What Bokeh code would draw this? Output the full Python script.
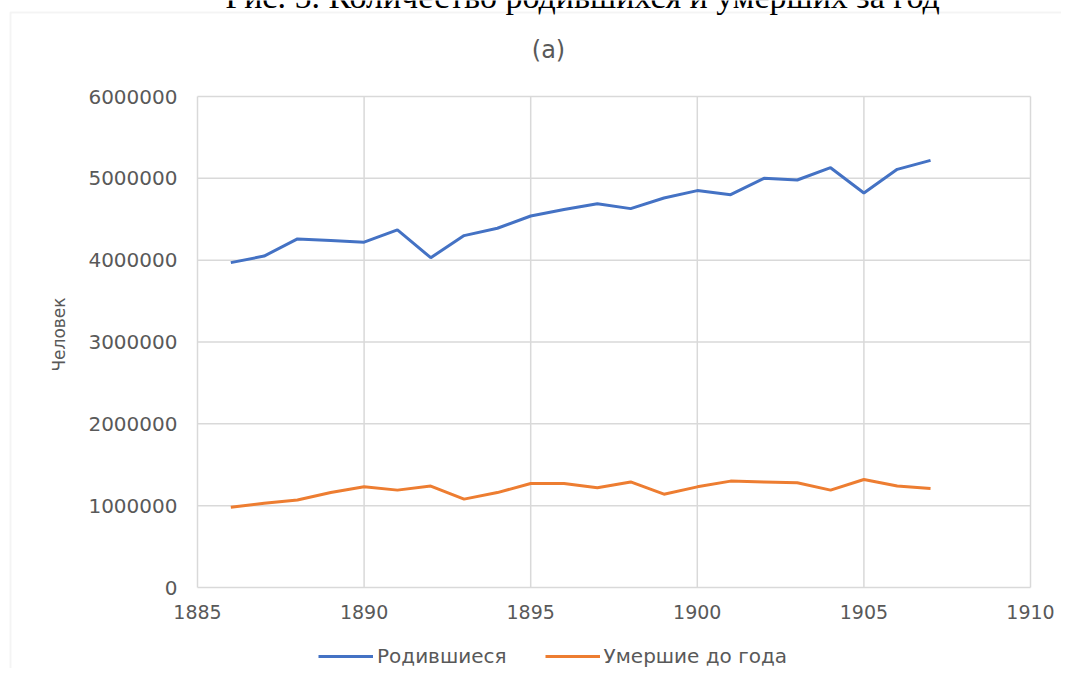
from bokeh.plotting import figure
from bokeh.models import (Label, BoxAnnotation, Legend, LegendItem, FixedTicker,
                          Range1d, NumeralTickFormatter, ColumnDataSource)
from bokeh.embed import file_html
from bokeh.resources import INLINE

years = list(range(1886, 1908))
born = [3970000, 4050000, 4260000, 4240000, 4220000, 4370000, 4030000, 4300000,
        4390000, 4540000, 4620000, 4690000, 4630000, 4760000, 4850000, 4800000,
        5000000, 4980000, 5130000, 4820000, 5110000, 5220000]
died = [980000, 1030000, 1070000, 1160000, 1230000, 1190000, 1240000, 1080000,
        1160000, 1270000, 1270000, 1220000, 1290000, 1140000, 1230000, 1300000,
        1290000, 1280000, 1190000, 1320000, 1240000, 1210000]
x_ticks = [1885, 1890, 1895, 1900, 1905, 1910]
y_ticks = [0, 1000000, 2000000, 3000000, 4000000, 5000000, 6000000]
series_names = ["Родившиеся", "Умершие до года"]
caption = "Рис. 5. Количество родившихся и умерших за год"
subtitle = "(a)"
y_label = "Человек"

# pixel geometry of the plotting area inside the canvas
W, H = 1061, 668
PL, PR, PT, PB = 197, 1030, 96, 587
xs = (x_ticks[-1] - x_ticks[0]) / (PR - PL)
ys = (y_ticks[-1] - y_ticks[0]) / (PB - PT)
x_range = Range1d(x_ticks[0] - PL * xs, x_ticks[-1] + (W - PR) * xs)
y_range = Range1d(y_ticks[0] - (H - PB) * ys, y_ticks[-1] + PT * ys)

p = figure(width=W, height=H, output_backend="svg", toolbar_location=None,
           x_range=x_range, y_range=y_range,
           min_border_left=0, min_border_right=0, min_border_top=0,
           min_border_bottom=0)
p.title.text = ""
p.background_fill_color = "white"
p.border_fill_color = "white"
p.outline_line_color = None
p.xgrid.visible = False
p.ygrid.visible = False

grid_color = "#d9d9d9"
n_x, n_y = len(x_ticks), len(y_ticks)
p.segment(x0=x_ticks, x1=x_ticks, y0=[y_ticks[0]] * n_x, y1=[y_ticks[-1]] * n_x,
          line_color=grid_color, line_width=1.5)
p.segment(x0=[x_ticks[0]] * n_y, x1=[x_ticks[-1]] * n_y, y0=y_ticks, y1=y_ticks,
          line_color=grid_color, line_width=1.5)

src = ColumnDataSource(dict(year=years, born=born, died=died))
r1 = p.line("year", "born", source=src, line_color="#4472C4", line_width=3)
r2 = p.line("year", "died", source=src, line_color="#ED7D31", line_width=3)

gray_text = "#595959"
for ax in (p.xaxis, p.yaxis):
    ax.axis_line_color = None
    ax.major_tick_line_color = None
    ax.minor_tick_line_color = None
    ax.major_tick_out = 0
    ax.major_tick_in = 0
    ax.major_label_text_color = gray_text
    ax.major_label_text_font = "DejaVu Sans"
    ax.major_label_text_font_size = "19px"
p.yaxis.major_label_text_font_size = "20px"

p.xaxis.fixed_location = y_ticks[0]
p.yaxis.fixed_location = x_ticks[0]
p.xaxis.ticker = FixedTicker(ticks=x_ticks)
p.yaxis.ticker = FixedTicker(ticks=y_ticks)
p.yaxis.formatter = NumeralTickFormatter(format="0")
p.xaxis.formatter = NumeralTickFormatter(format="0")
p.xaxis.major_label_standoff = 17
p.yaxis.major_label_standoff = 20
p.yaxis.axis_label = y_label
p.yaxis.axis_label_text_font = "DejaVu Sans"
p.yaxis.axis_label_text_font_style = "normal"
p.yaxis.axis_label_text_font_size = "17px"
p.yaxis.axis_label_text_color = gray_text
p.yaxis.axis_label_standoff = 16

# chart box border (runs off the page on the right and bottom)
p.add_layout(BoxAnnotation(left=10, right=W + 50, top=H - 12, bottom=-50,
                           left_units="screen", right_units="screen",
                           top_units="screen", bottom_units="screen",
                           fill_color=None, line_color=grid_color, line_width=2))

p.add_layout(Label(x=548, y=H - 49, x_units="screen", y_units="screen", text=subtitle,
                   text_align="center", text_baseline="middle",
                   text_font="DejaVu Sans", text_font_size="24px", text_color=gray_text))
p.add_layout(Label(x=582, y=H + 4, x_units="screen", y_units="screen", text=caption,
                   text_align="center", text_baseline="alphabetic",
                   text_font="Liberation Serif", text_font_size="34px",
                   text_color="black"))

legend = Legend(items=[LegendItem(label=series_names[0], renderers=[r1]),
                       LegendItem(label=series_names[1], renderers=[r2])],
                location=(318, 0), orientation="horizontal",
                border_line_color=None, background_fill_alpha=0,
                padding=0, margin=0, spacing=38, glyph_width=55, glyph_height=20,
                label_height=20, label_standoff=4,
                label_text_font="DejaVu Sans", label_text_font_size="20px",
                label_text_color=gray_text)
p.add_layout(legend)

open("out.html", "w").write(file_html(p, INLINE))
